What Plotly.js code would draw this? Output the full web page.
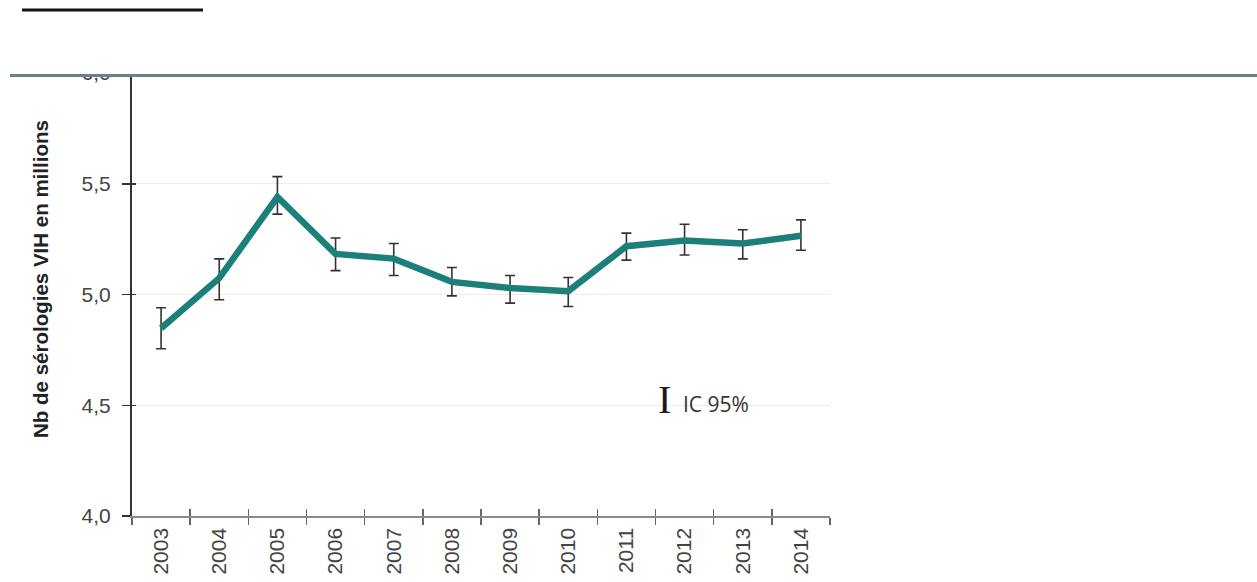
<!DOCTYPE html>
<html>
<head>
<meta charset="utf-8">
<script src="https://cdn.plot.ly/plotly-3.0.1.min.js"></script>
<style>
  html, body { margin: 0; padding: 0; background: #ffffff; }
  #chart { width: 1257px; height: 582px; }
</style>
</head>
<body>
<div id="chart"></div>
<script>
// Nombre de sérologies VIH réalisées (millions) et intervalle de confiance à 95 %
const years = ['2003', '2004', '2005', '2006', '2007', '2008', '2009', '2010', '2011', '2012', '2013', '2014'];
const serologies = [4.848, 5.074, 5.44, 5.183, 5.162, 5.057, 5.029, 5.015, 5.218, 5.244, 5.23, 5.265];
const ciHigh = [4.94, 5.161, 5.532, 5.255, 5.23, 5.122, 5.086, 5.077, 5.277, 5.317, 5.292, 5.337];
const ciLow = [4.755, 4.976, 5.363, 5.108, 5.086, 4.994, 4.961, 4.946, 5.155, 5.178, 5.161, 5.2];
const yTicks = [4.0, 4.5, 5.0, 5.5, 6.0];

const errPlus = serologies.map((v, i) => ciHigh[i] - v);
const errMinus = serologies.map((v, i) => v - ciLow[i]);

const teal = '#1c7f7a';
const labelFont = { family: 'Liberation Sans, Arial, sans-serif', size: 21, color: '#444444' };

const traces = [
  {
    type: 'scatter',
    mode: 'lines',
    x: years,
    y: serologies,
    line: { color: teal, width: 6.5 },
    error_y: {
      type: 'data',
      symmetric: false,
      array: errPlus,
      arrayminus: errMinus,
      color: '#333333',
      thickness: 1.6,
      width: 5
    },
    hoverinfo: 'x+y',
    showlegend: false
  },
  {
    // carries the inner half of the crossing tick marks
    type: 'scatter',
    mode: 'none',
    x: years,
    y: serologies,
    xaxis: 'x2',
    yaxis: 'y2',
    hoverinfo: 'skip',
    showlegend: false
  }
];

const layout = {
  width: 1257,
  height: 582,
  margin: { l: 132, r: 427, t: 73, b: 66 },
  paper_bgcolor: '#ffffff',
  plot_bgcolor: '#ffffff',
  separators: ', ',
  showlegend: false,
  xaxis: {
    type: 'category',
    range: [-0.5, 11.5],
    tickson: 'boundaries',
    ticks: 'outside',
    ticklen: 7,
    tickwidth: 1.5,
    tickcolor: '#666666',
    tickangle: -90,
    ticklabelstandoff: 2,
    tickfont: labelFont,
    showline: true,
    linecolor: '#8a8a8a',
    linewidth: 1.5,
    showgrid: false,
    zeroline: false,
    fixedrange: true
  },
  xaxis2: {
    type: 'category',
    overlaying: 'x',
    anchor: 'y2',
    side: 'bottom',
    range: [-0.5, 11.5],
    tickson: 'boundaries',
    ticks: 'inside',
    ticklen: 7,
    tickwidth: 1.5,
    tickcolor: '#666666',
    showticklabels: false,
    showline: false,
    showgrid: false,
    zeroline: false
  },
  yaxis: {
    range: [4, 6],
    tickvals: yTicks,
    tickformat: '.1f',
    ticks: 'outside',
    ticklen: 8,
    tickwidth: 1.5,
    tickcolor: '#333333',
    ticklabelstandoff: 7,
    tickfont: labelFont,
    showline: true,
    linecolor: '#333333',
    linewidth: 2,
    showgrid: true,
    gridcolor: '#ececec',
    gridwidth: 1,
    zeroline: false,
    fixedrange: true
  },
  yaxis2: {
    overlaying: 'y',
    anchor: 'x2',
    side: 'left',
    range: [4, 6],
    tickvals: yTicks,
    ticks: 'inside',
    ticklen: 4,
    tickwidth: 1.5,
    tickcolor: '#333333',
    showticklabels: false,
    showline: false,
    showgrid: false,
    zeroline: false
  },
  shapes: [
    // page band above the plot
    {
      type: 'rect', xref: 'paper', yref: 'paper',
      x0: -0.2, x1: 1.62, y0: 0.9955, y1: 1.2,
      fillcolor: '#ffffff', line: { width: 0 }, layer: 'above'
    },
    // header rule
    {
      type: 'line', xref: 'paper', yref: 'paper',
      x0: -0.1748, x1: 1.62, y0: 0.9944, y1: 0.9944,
      line: { color: '#6f7f8a', width: 3 }, layer: 'above'
    },
    // short black rule at the top left
    {
      type: 'line', xref: 'paper', yref: 'paper',
      x0: -0.1576, x1: 0.1017, y0: 1.1422, y1: 1.1422,
      line: { color: '#111111', width: 3 }, layer: 'above'
    }
  ],
  annotations: [
    {
      text: '<b>Nb de sérologies VIH en millions</b>',
      xref: 'paper', yref: 'paper',
      x: -0.1304, y: 0.535,
      xanchor: 'center', yanchor: 'middle',
      textangle: -90,
      showarrow: false,
      font: { family: 'Liberation Sans, Arial, sans-serif', size: 20.5, color: '#222222' }
    },
    {
      text: 'I',
      xref: 'paper', yref: 'paper',
      x: 0.7636, y: 0.263,
      xanchor: 'center', yanchor: 'middle',
      showarrow: false,
      font: { family: 'Liberation Serif, DejaVu Serif, serif', size: 40, color: '#1a1a1a' }
    },
    {
      text: 'IC 95%',
      xref: 'paper', yref: 'paper',
      x: 0.787, y: 0.252,
      xanchor: 'left', yanchor: 'middle',
      showarrow: false,
      font: { family: 'Open Sans, Lato, sans-serif', size: 21, color: '#333333' }
    }
  ]
};

Plotly.newPlot('chart', traces, layout, { staticPlot: true, displayModeBar: false });
</script>
</body>
</html>
